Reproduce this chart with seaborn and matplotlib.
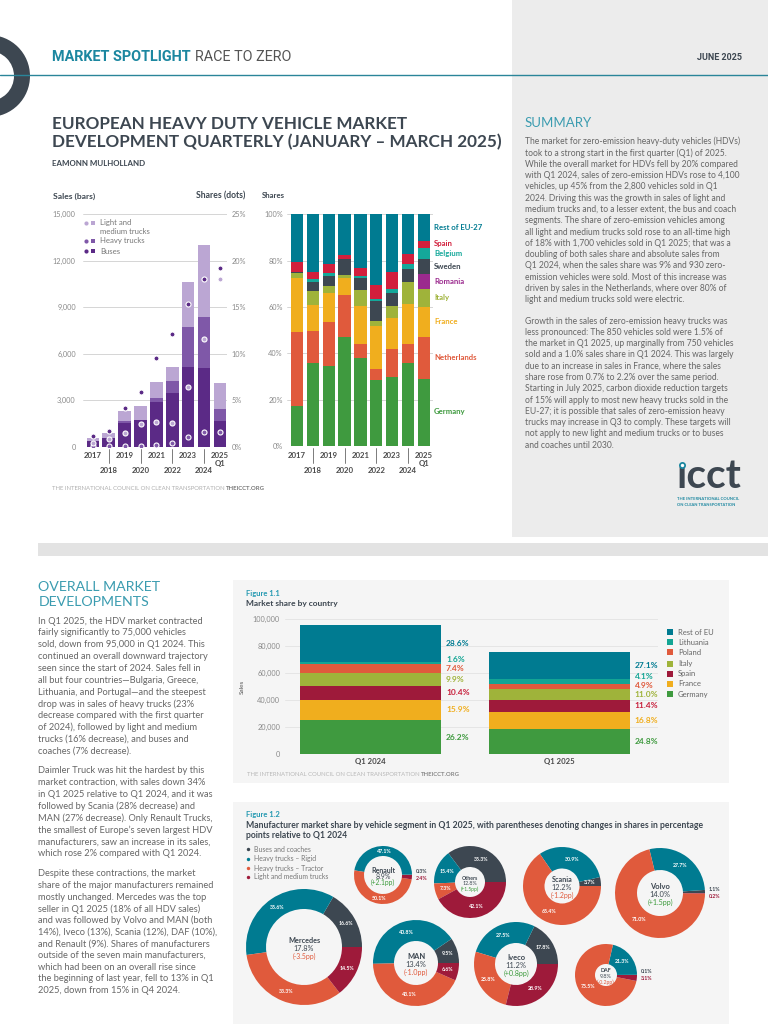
import numpy as np
import pandas as pd
import matplotlib
matplotlib.use("Agg")
import matplotlib.pyplot as plt
import matplotlib.transforms as mtransforms
from matplotlib.patches import Rectangle, Wedge
import seaborn as sns

# ----------------------------- DATA -----------------------------
years = ["2017", "2018", "2019", "2020", "2021", "2022", "2023", "2024", "2025"]
year_labels = ["2017", "2018", "2019", "2020", "2021", "2022", "2023", "2024", "2025\nQ1"]

# zero-emission HDV sales (bars)
sales_buses = [370, 580, 1500, 1720, 2880, 3440, 5120, 5060, 1630]
sales_heavy = [20, 10, 130, 30, 240, 770, 2620, 3290, 820]
sales_lmt = [150, 270, 690, 900, 1070, 910, 2860, 4660, 1660]
# zero-emission shares (dots, %)
share_buses = [1.1, 1.7, 4.2, 5.9, 9.5, 12.1, 15.3, 18.0, 19.2]
share_lmt = [0.36, 0.8, 1.5, 2.4, 2.65, 2.6, 6.45, 11.6, 18.0]
share_heavy = [0.05, 0.1, 0.1, 0.1, 0.2, 0.45, 1.0, 1.6, 1.6]

# country shares of zero-emission HDV sales (%)
countries = ["Germany", "Netherlands", "France", "Italy", "Romania",
             "Sweden", "Belgium", "Spain", "Rest of EU-27"]
sh_germany = [17.4, 35.8, 34.7, 46.9, 38.1, 28.6, 29.9, 35.7, 28.9]
sh_netherlands = [32.0, 14.0, 18.7, 18.3, 6.1, 4.8, 12.0, 8.2, 18.3]
sh_france = [23.3, 11.1, 12.6, 7.5, 16.1, 18.3, 13.2, 17.4, 12.8]
sh_italy = [2.0, 5.9, 3.1, 1.1, 7.0, 2.1, 5.3, 9.5, 7.8]
sh_romania = [0, 0, 0, 0, 0, 0, 0, 0, 6.4]
sh_sweden = [0.3, 4.1, 4.4, 6.8, 5.2, 8.8, 5.6, 5.6, 6.5]
sh_belgium = [0.1, 1.2, 1.2, 0.3, 1.0, 0.9, 1.9, 2.3, 4.9]
sh_spain = [4.5, 3.2, 4.0, 1.7, 3.5, 6.0, 7.4, 4.3, 3.0]
sh_rest = [20.4, 24.7, 21.3, 17.4, 23.0, 30.5, 24.7, 17.0, 11.4]

# Figure 1.1 : total HDV sales by country
f11_periods = ["Q1 2024", "Q1 2025"]
f11_countries = ["Germany", "France", "Spain", "Italy", "Poland", "Lithuania", "Rest of EU"]
f11_germany = [25100, 18800]
f11_france = [15230, 12740]
f11_spain = [9960, 8640]
f11_italy = [9480, 8340]
f11_poland = [7090, 3710]
f11_lithuania = [1530, 3110]
f11_rest = [27400, 20540]
f11_lab_germany = ["26.2%", "24.8%"]
f11_lab_france = ["15.9%", "16.8%"]
f11_lab_spain = ["10.4%", "11.4%"]
f11_lab_italy = ["9.9%", "11.0%"]
f11_lab_poland = ["7.4%", "4.9%"]
f11_lab_lithuania = ["1.6%", "4.1%"]
f11_lab_rest = ["28.6%", "27.1%"]

# Figure 1.2 : manufacturer shares by segment
makers = ["Renault", "Others", "Scania", "Volvo", "Mercedes", "MAN", "Iveco", "DAF"]
maker_share = ["8.9%", "12.8%", "12.2%", "14.0%", "17.8%", "13.4%", "11.2%", "9.8%"]
maker_change = ["+2.1pp", "+1.5pp", "-1.2pp", "+1.5pp", "-3.5pp", "-1.0pp", "+0.8pp", "-0.2pp"]
seg_buses = [0.3, 35.3, 3.7, 1.1, 16.6, 9.5, 17.8, 0.1]
seg_rigid = [47.1, 15.4, 30.9, 27.7, 35.6, 40.8, 27.5, 21.3]
seg_tractor = [50.1, 7.3, 65.4, 71.0, 33.3, 43.1, 25.8, 75.5]
seg_lmt = [2.4, 42.1, 0.0, 0.2, 14.5, 6.6, 28.9, 3.1]
seg_names = ["Buses and coaches", "Heavy trucks \u2013 Rigid",
             "Heavy trucks \u2013 Tractor", "Light and medium trucks"]

summary_p1 = [
    "The market for zero-emission heavy-duty vehicles (HDVs)",
    "took to a strong start in the first quarter (Q1) of 2025.",
    "While the overall market for HDVs fell by 20% compared",
    "with Q1 2024, sales of zero-emission HDVs rose to 4,100",
    "vehicles, up 45% from the 2,800 vehicles sold in Q1",
    "2024. Driving this was the growth in sales of light and",
    "medium trucks and, to a lesser extent, the bus and coach",
    "segments. The share of zero-emission vehicles among",
    "all light and medium trucks sold rose to an all-time high",
    "of 18% with 1,700 vehicles sold in Q1 2025; that was a",
    "doubling of both sales share and absolute sales from",
    "Q1 2024, when the sales share was 9% and 930 zero-",
    "emission vehicles were sold. Most of this increase was",
    "driven by sales in the Netherlands, where over 80% of",
    "light and medium trucks sold were electric.",
]
summary_p2 = [
    "Growth in the sales of zero-emission heavy trucks was",
    "less pronounced: The 850 vehicles sold were 1.5% of",
    "the market in Q1 2025, up marginally from 750 vehicles",
    "sold and a 1.0% sales share in Q1 2024. This was largely",
    "due to an increase in sales in France, where the sales",
    "share rose from 0.7% to 2.2% over the same period.",
    "Starting in July 2025, carbon dioxide reduction targets",
    "of 15% will apply to most new heavy trucks sold in the",
    "EU-27; it is possible that sales of zero-emission heavy",
    "trucks may increase in Q3 to comply. These targets will",
    "not apply to new light and medium trucks or to buses",
    "and coaches until 2030.",
]
overall_p1 = [
    "In Q1 2025, the HDV market contracted",
    "fairly significantly to 75,000 vehicles",
    "sold, down from 95,000 in Q1 2024. This",
    "continued an overall downward trajectory",
    "seen since the start of 2024. Sales fell in",
    "all but four countries\u2014Bulgaria, Greece,",
    "Lithuania, and Portugal\u2014and the steepest",
    "drop was in sales of heavy trucks (23%",
    "decrease compared with the first quarter",
    "of 2024), followed by light and medium",
    "trucks (16% decrease), and buses and",
    "coaches (7% decrease).",
]
overall_p2 = [
    "Daimler Truck was hit the hardest by this",
    "market contraction, with sales down 34%",
    "in Q1 2025 relative to Q1 2024, and it was",
    "followed by Scania (28% decrease) and",
    "MAN (27% decrease). Only Renault Trucks,",
    "the smallest of Europe\u2019s seven largest HDV",
    "manufacturers, saw an increase in its sales,",
    "which rose 2% compared with Q1 2024.",
]
overall_p3 = [
    "Despite these contractions, the market",
    "share of the major manufacturers remained",
    "mostly unchanged. Mercedes was the top",
    "seller in Q1 2025 (18% of all HDV sales)",
    "and was followed by Volvo and MAN (both",
    "14%), Iveco (13%), Scania (12%), DAF (10%),",
    "and Renault (9%). Shares of manufacturers",
    "outside of the seven main manufacturers,",
    "which had been on an overall rise since",
    "the beginning of last year, fell to 13% in Q1",
    "2025, down from 15% in Q4 2024.",
]

# ----------------------------- STYLE -----------------------------
sns.set_theme(style="white")
BODY = ["Lato", "DejaVu Sans"]
HEAD = ["Roboto", "DejaVu Sans"]
plt.rcParams["font.family"] = BODY

DARK = "#3d4751"
TEAL_H = "#1c87a0"
TEAL_S = "#3b9cb0"
GREY_T = "#666666"
TICK_C = "#8a8a8a"
C_BUS1, C_HEAVY1, C_LMT1 = "#5b2a86", "#7f58a8", "#bba6d3"
C2 = ["#3f9a3f", "#e05a3c", "#f0ae1e", "#9fb33a", "#9b2a8e",
      "#3d4751", "#14a89a", "#d21f3c", "#007b91"]
C11 = ["#3f9a3f", "#f0ae1e", "#9e1a3a", "#9fb33a", "#e05a3c", "#13a594", "#007b91"]
C11_LAB = ["#3f9a3f", "#f0ae1e", "#c8203c", "#9fb33a", "#e05a3c", "#13a594", "#007b91"]
C12 = ["#3d4751", "#007b91", "#e05a3c", "#9e1a3a"]

W, H = 768, 1024
fig = plt.figure(figsize=(W / 100, H / 100), dpi=100)
fig.patch.set_facecolor("white")
R = fig.canvas.get_renderer()

bg = fig.add_axes([0, 0, 1, 1])
bg.set_xlim(0, W)
bg.set_ylim(0, H)
bg.set_autoscale_on(False)
bg.axis("off")


def Y(y):
    return H - y


def rect(x0, y0, x1, y1):
    return [x0 / W, 1 - y1 / H, (x1 - x0) / W, (y1 - y0) / H]


def txt(x, y, s, size=6, color=DARK, weight="normal", ha="left", va="center",
        fit=None, family=None, **kw):
    t = bg.text(x, Y(y), s, fontsize=size, color=color, fontweight=weight,
                ha=ha, va=va, **kw)
    if family is not None:
        t.set_fontfamily(family)
    if fit is not None:
        w = t.get_window_extent(R).width
        t.set_fontsize(size * fit / w)
    return t


def wid(t):
    return t.get_window_extent(R).width


def para(x, y0, lines, dy, size, color=GREY_T, weight="normal"):
    for i, line in enumerate(lines):
        txt(x, y0 + i * dy, line, size, color, weight)


def fit_size(s, target, weight="normal", family=None, base=6):
    t = txt(0, -100, s, base, weight=weight, family=family)
    fs = base * target / wid(t)
    t.remove()
    return fs


# ----------------------------- BACKGROUND -----------------------------
bg.add_patch(Rectangle((512, Y(537)), 256, 537, color="#ececec", lw=0, zorder=0))
bg.add_patch(Rectangle((38, Y(556)), 730, 13, color="#e3e3e3", lw=0, zorder=0))
bg.add_patch(Rectangle((233, Y(783)), 496, 203, color="#f5f5f5", lw=0, zorder=0))
bg.add_patch(Rectangle((233, Y(1024)), 496, 222, color="#f5f5f5", lw=0, zorder=0))
bg.add_patch(Wedge((-11, Y(76)), 41, -90, 90, width=16, color=DARK, lw=0, zorder=1))
bg.plot([0, W], [Y(75.3), Y(75.3)], color="#2a8599", lw=1.0, zorder=2)

# ----------------------------- HEADER -----------------------------
t = txt(52, 57, "MARKET SPOTLIGHT", 10, TEAL_H, "bold", family=HEAD, fit=138)
txt(195, 57, "RACE TO ZERO", t.get_fontsize(), "#555555", family=HEAD)
txt(742, 57, "JUNE 2025", 7, DARK, "bold", ha="right", family=HEAD, fit=45)
t2 = txt(52, 142, "DEVELOPMENT QUARTERLY (JANUARY \u2013 MARCH 2025)", 12, DARK, "bold",
         fit=451)
txt(52, 124, "EUROPEAN HEAVY DUTY VEHICLE MARKET", t2.get_fontsize(), DARK, "bold")
txt(52, 164, "EAMONN MULHOLLAND", 5, DARK, "bold", fit=95)

# ----------------------------- SUMMARY -----------------------------
txt(525, 123, "SUMMARY", 12, TEAL_S, "normal", fit=67)
fs_sum = fit_size(summary_p1[0], 217)
para(525, 141.7, summary_p1, 11.3, fs_sum)
para(525, 321, summary_p2, 11.3, fs_sum)

# ----------------------------- CHART 1 : sales & shares -----------------------------
txt(52.7, 196, "Sales (bars)", 5.5, DARK, "bold", fit=42)
txt(245.7, 196, "Shares (dots)", 5.5, DARK, "bold", ha="right", fit=49)

A1 = (82.7, 214.3, 226.7, 446.7)
ax1 = fig.add_axes(rect(*A1))
ax1.set_facecolor("none")
cum1 = np.cumsum(np.array([sales_buses, sales_heavy, sales_lmt], dtype=float), axis=0)
for vals, col in zip(cum1[::-1], [C_LMT1, C_HEAVY1, C_BUS1]):
    sns.barplot(x=years, y=vals, color=col, width=0.78, saturation=1, errorbar=None,
                ax=ax1, zorder=2, linewidth=0)
ax1.set_ylim(0, 15000)
ax1.set_yticks(np.arange(0, 15001, 3000))
ax1.set_yticklabels([f"{v:,}" for v in range(0, 15001, 3000)])
ax1.tick_params(axis="y", length=0, pad=5.0, labelsize=5.3, labelcolor=TICK_C)
ax1.set_xticks([])
ax1.set_xlabel("")
ax1.set_ylabel("")
ax1.yaxis.grid(True, color="#cfcfcf", lw=0.6, zorder=0)
ax1.set_axisbelow(True)
for s in ax1.spines.values():
    s.set_visible(False)

ax1b = ax1.twinx()
xi = np.arange(len(years))
for ser, col in [(share_heavy, C_HEAVY1), (share_lmt, C_LMT1), (share_buses, C_BUS1)]:
    sns.scatterplot(x=xi, y=ser, color=col, s=13, edgecolor="white", linewidth=0.8,
                    ax=ax1b, zorder=4, legend=False)
ax1b.set_ylim(0, 25)
ax1b.set_yticks(np.arange(0, 26, 5))
ax1b.set_yticklabels([f"{v}%" for v in range(0, 26, 5)])
ax1b.tick_params(axis="y", length=0, pad=3.6, labelsize=5.3, labelcolor=TICK_C)
ax1b.set_ylabel("")
ax1b.grid(False)
for s in ax1b.spines.values():
    s.set_visible(False)
ax1.set_xlim(-0.635, 8.42)


def stagger(ax, box, labels, y_up, y_low, y_q, tick0, tick1):
    h = box[3] - box[1]
    tr = mtransforms.blended_transform_factory(ax.transData, ax.transAxes)
    f = lambda y: -(y - box[3]) / h
    for i, lab in enumerate(labels):
        parts = lab.split("\n")
        y = y_up if i % 2 == 0 else y_low
        ax.text(i, f(y), parts[0], transform=tr, ha="center", va="center",
                fontsize=5.6, fontweight="bold", color="#4a4a4a", clip_on=False)
        if len(parts) > 1:
            ax.text(i, f(y_q), parts[1], transform=tr, ha="center", va="center",
                    fontsize=5.6, fontweight="bold", color="#4a4a4a", clip_on=False)
        if i % 2 == 1:
            ax.plot([i, i], [f(tick0), f(tick1)], transform=tr, color="#666666",
                    lw=0.6, clip_on=False)


stagger(ax1, A1, year_labels, 455.7, 470.7, 463.7, 449, 463)

# legend chart 1
leg_rows = [(C_LMT1, 223), (C_HEAVY1, 241), (C_BUS1, 251)]
for (col, yy) in leg_rows:
    bg.scatter([86], [Y(yy)], s=9, marker="o", color=col, lw=0, zorder=5)
    bg.scatter([92.5], [Y(yy)], s=9, marker="s", color=col, lw=0, zorder=5)
txt(100, 223, "Light and", 5.6, "#777777")
txt(100, 231, "medium trucks", 5.6, "#777777")
txt(100, 241, "Heavy trucks", 5.6, "#777777")
txt(100, 251, "Buses", 5.6, "#777777")

# ----------------------------- CHART 2 : country shares -----------------------------
txt(261.7, 196, "Shares", 5.5, DARK, "bold", fit=23)
A2 = (286.7, 214.3, 433.3, 446.0)
ax2 = fig.add_axes(rect(*A2))
ax2.set_facecolor("none")
layers2 = [sh_germany, sh_netherlands, sh_france, sh_italy, sh_romania,
           sh_sweden, sh_belgium, sh_spain, sh_rest]
cum2 = np.cumsum(np.array(layers2, dtype=float), axis=0)
for vals, col in zip(cum2[::-1], C2[::-1]):
    sns.barplot(x=years, y=vals, color=col, width=0.78, saturation=1, errorbar=None,
                ax=ax2, zorder=2, linewidth=0)
ax2.set_ylim(0, 100)
ax2.set_yticks(np.arange(0, 101, 20))
ax2.set_yticklabels([f"{v}%" for v in range(0, 101, 20)])
ax2.tick_params(axis="y", length=0, pad=2.7, labelsize=5.3, labelcolor=TICK_C)
ax2.set_xticks([])
ax2.set_xlabel("")
ax2.set_ylabel("")
ax2.yaxis.grid(True, color="#cfcfcf", lw=0.6, zorder=0)
ax2.set_axisbelow(True)
for s in ax2.spines.values():
    s.set_visible(False)
ax2.set_xlim(-0.66, 8.6)
stagger(ax2, A2, year_labels, 455.7, 470.7, 463.7, 448, 463)
lab_y2 = [14.7, 38.4, 53.9, 64.2, 71.1, 77.6, 83.2, 87.5, 94.4]
tr2 = mtransforms.blended_transform_factory(ax2.transAxes, ax2.transData)
for name, col, yy in zip(countries, C2, lab_y2):
    ax2.text(1.006, yy, name, transform=tr2, color=col, fontsize=5.6, fontweight="bold",
             va="center", ha="left", clip_on=False)

# footer + logo (top section)
t = txt(52, 489, "THE INTERNATIONAL COUNCIL ON CLEAN TRANSPORTATION ", 4.2, "#b0b0b0", fit=180)
txt(52 + wid(t), 489, "THEICCT.ORG", t.get_fontsize(), "#777777", "bold")
tl = txt(676.7, 488, "\u0131cct", 20, DARK, "bold", va="baseline", fit=65)
ti = txt(0, -100, "\u0131", tl.get_fontsize(), weight="bold")
iw = wid(ti)
ti.remove()
bg.scatter([676.7 + iw / 2], [Y(465)], s=14, marker="o", facecolor="white",
           edgecolor="#1c87a0", lw=1.3, zorder=5)
txt(676.7, 498.5, "THE INTERNATIONAL COUNCIL", 2.5, "#1c87a0", "bold", fit=62)
txt(676.7, 504.5, "ON CLEAN TRANSPORTATION", 2.5, "#1c87a0", "bold", fit=58)

# ----------------------------- LEFT COLUMN TEXT -----------------------------
t = txt(38.3, 586.7, "OVERALL MARKET", 12, TEAL_S, "normal", fit=123)
txt(38.3, 601.7, "DEVELOPMENTS", t.get_fontsize(), TEAL_S, "normal")
fs_left = fit_size(overall_p1[0], 165)
para(38.3, 621, overall_p1, 11.85, fs_left)
para(38.3, 770.7, overall_p2, 11.85, fs_left)
para(38.3, 874, overall_p3, 11.65, fs_left)

# ----------------------------- FIGURE 1.1 -----------------------------
txt(246, 593.3, "Figure 1.1", 5.6, "#2499b1", "bold", fit=34)
txt(246, 603.8, "Market share by country", 5.6, DARK, "bold", fit=92)

A3 = (284.8, 619.3, 658.0, 754.0)
ax3 = fig.add_axes(rect(*A3))
ax3.set_facecolor("none")
layers3 = [f11_germany, f11_france, f11_spain, f11_italy, f11_poland, f11_lithuania, f11_rest]
labels3 = [f11_lab_germany, f11_lab_france, f11_lab_spain, f11_lab_italy,
           f11_lab_poland, f11_lab_lithuania, f11_lab_rest]
cum3 = np.cumsum(np.array(layers3, dtype=float), axis=0)
for vals, col in zip(cum3[::-1], C11[::-1]):
    sns.barplot(x=f11_periods, y=vals, color=col, width=0.748, saturation=1, errorbar=None,
                ax=ax3, zorder=2, linewidth=0)
ax3.set_ylim(0, 100000)
ax3.set_yticks(np.arange(0, 100001, 20000))
ax3.set_yticklabels([f"{v:,}" for v in range(0, 100001, 20000)])
ax3.tick_params(axis="y", length=0, pad=3.4, labelsize=5.3, labelcolor=TICK_C)
ax3.tick_params(axis="x", length=0, pad=3.2, labelsize=5.6, labelcolor="#4a4a4a")
for tl_ in ax3.get_xticklabels():
    tl_.set_fontweight("bold")
ax3.set_xlabel("")
ax3.set_ylabel("Sales", fontsize=4.6, color="#555555", labelpad=6)
ax3.yaxis.grid(True, color="#e2e2e2", lw=0.6, zorder=0)
ax3.set_axisbelow(True)
for s in ax3.spines.values():
    s.set_visible(False)
ax3.set_xlim(-0.456, 1.523)
for j in range(len(f11_periods)):
    prev = -1e9
    for k in range(len(layers3)):
        lo = cum3[k - 1][j] if k > 0 else 0
        mid = (lo + cum3[k][j]) / 2
        yl = max(mid, prev + 6500)
        prev = yl
        ax3.text(j + 0.399, yl, labels3[k][j], color=C11_LAB[k], fontsize=6.0,
                 fontweight="bold", va="center", ha="left")

leg11_y = [632.3, 642.3, 652.3, 663.7, 673.7, 684.0, 694.3]
for name, col, yy in zip(f11_countries[::-1], C11[::-1], leg11_y):
    bg.scatter([669.7], [Y(yy)], s=14, marker="s", color=col, lw=0, zorder=5)
    txt(678, yy, name, 5.5, "#666666")

t = txt(247, 774, "THE INTERNATIONAL COUNCIL ON CLEAN TRANSPORTATION ", 4.2, "#b8b8b8", fit=180)
txt(247 + wid(t), 774, "THEICCT.ORG", t.get_fontsize(), "#888888", "bold")

# ----------------------------- FIGURE 1.2 -----------------------------
txt(246, 815, "Figure 1.2", 5.6, "#2499b1", "bold", fit=34)
t = txt(246, 826, "Manufacturer market share by vehicle segment in Q1 2025, with parentheses "
        "denoting changes in shares in percentage", 5.6, DARK, "bold", fit=453)
txt(246, 835.5, "points relative to Q1 2024", t.get_fontsize(), DARK, "bold")

leg12_y = [849, 859, 868, 877]
fs_l12 = fit_size(seg_names[2], 70)
for name, col, yy in zip(seg_names, C12, leg12_y):
    bg.scatter([248], [Y(yy)], s=6, marker="o", color=col, lw=0, zorder=5)
    txt(254, yy, name, fs_l12, "#777777")

d_cx = [383, 470, 562, 660, 304, 416, 516, 606]
d_cy = [875, 882, 886, 893, 947, 963, 964, 975]
d_r = [29, 36, 39, 45, 58, 43, 42, 31]
d_ri = [19, 15, 17.5, 23, 38, 22, 21, 11]
d_fs = [5.0, 3.8, 5.2, 5.4, 5.2, 5.4, 5.4, 3.9]
d_gap = [6.3, 5.3, 8.0, 8.0, 8.0, 8.0, 8.0, 6.0]

for i, m in enumerate(makers):
    cx, cy, r, ri = d_cx[i], d_cy[i], d_r[i], d_ri[i]
    vals = [seg_buses[i], seg_rigid[i], seg_tractor[i], seg_lmt[i]]
    wedges, _ = bg.pie(vals, colors=C12, radius=r, center=(cx, Y(cy)), startangle=0,
                       counterclock=True, frame=True,
                       wedgeprops=dict(width=r - ri, edgecolor="none", linewidth=0))
    for k, (w, v) in enumerate(zip(wedges, vals)):
        if v <= 0:
            continue
        ang = np.deg2rad((w.theta1 + w.theta2) / 2)
        if v >= 3.5:
            rm = r - (r - ri) / 2
            bg.text(cx + rm * np.cos(ang), Y(cy) + rm * np.sin(ang), f"{v:.1f}%",
                    color="white", fontsize=3.8, fontweight="bold", ha="center", va="center")
        else:
            dy = 3.2 if k == 0 else -3.4
            bg.text(cx + r + 3.5, Y(cy) + dy, f"{v:.1f}%", color=C12[k], fontsize=3.8,
                    fontweight="bold", ha="left", va="center")
    g = d_gap[i]
    txt(cx, cy - g + 1.5, m, d_fs[i], DARK, "bold", ha="center")
    txt(cx, cy + 1.5, maker_share[i], d_fs[i], DARK, ha="center")
    chg = maker_change[i]
    txt(cx, cy + g + 1.5, f"({chg})", d_fs[i] * 0.95,
        "#3a9a3a" if chg.startswith("+") else "#e05a3c", ha="center")

bg.set_xlim(0, W)
bg.set_ylim(0, H)
bg.axis("off")

fig.savefig("out.png", dpi=100, facecolor="white")
